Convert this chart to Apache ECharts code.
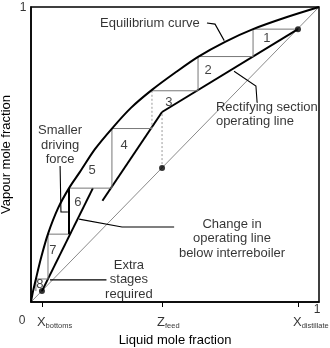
<!DOCTYPE html>
<html>
<head>
<meta charset="utf-8">
<script src="https://cdn.jsdelivr.net/npm/echarts@6.0.0/dist/echarts.min.js"></script>
<style>
html, body { margin: 0; padding: 0; background: #fff; }
#chart { width: 330px; height: 348px; }
</style>
</head>
<body>
<div id="chart"></div>
<script type="text/javascript">

// equilibrium curve
var eqX = [0, 0.007, 0.017, 0.035, 0.059, 0.094, 0.132, 0.170, 0.222, 0.281, 0.347, 0.420, 0.500, 0.580, 0.674, 0.771, 0.889, 1];
var eqY = [0, 0.036, 0.078, 0.150, 0.231, 0.318, 0.386, 0.441, 0.518, 0.588, 0.658, 0.719, 0.777, 0.831, 0.882, 0.925, 0.966, 1];

// key compositions
var xBottoms = 0.038, zFeed = 0.455, xDistillate = 0.927;
var pinchY = 0.644;           // rectifying / stripping intersection on the q-line

// operating lines
var rectLine = [[xDistillate, 0.925], [zFeed, pinchY]];
var stripLine = [[zFeed, pinchY], [0.248, 0.343]];
var interLine = [[0.215, 0.386], [xBottoms, 0.037]];

// staircase corners
var stairsTop = [[0.927, 0.925], [0.771, 0.925], [0.771, 0.832], [0.580, 0.832], [0.580, 0.716], [0.420, 0.716]];
var stairsDotted = [[0.420, 0.716], [0.420, 0.588]];
var stairsMid = [[0.420, 0.588], [0.281, 0.588], [0.281, 0.386], [0.132, 0.386]];
var stairsLow = [[0.132, 0.230], [0.059, 0.230], [0.059, 0.078], [0.017, 0.078], [0.017, 0.037]];
var drivingForce = [[0.132, 0.386], [0.132, 0.230]];

// stage numbers
var stageNames = ['1', '2', '3', '4', '5', '6', '7', '8'];
var stageX = [0.819, 0.615, 0.479, 0.323, 0.212, 0.163, 0.076, 0.031];
var stageY = [0.892, 0.786, 0.678, 0.532, 0.447, 0.339, 0.176, 0.061];

var tickValues = [xBottoms, zFeed, xDistillate];

var myChart = echarts.init(document.getElementById('chart'));

function seg(pts, color, width, type) {
    return {
        type: 'line',
        data: pts,
        symbol: 'none',
        silent: true,
        z: 3,
        lineStyle: {color: color, width: width, type: type || 'solid'}
    };
}

function leader(pts, arrows, width) {
    return {
        type: 'lines',
        coordinateSystem: 'cartesian2d',
        polyline: true,
        silent: true,
        z: 6,
        symbol: arrows,
        symbolSize: 7,
        lineStyle: {color: '#000', width: width || 1.1, opacity: 1, curveness: 0},
        data: [{coords: pts}]
    };
}

var font = "'Liberation Sans', Arial, sans-serif";

var eqData = [];
for (var i = 0; i < eqX.length; i++) eqData.push([eqX[i], eqY[i]]);

var stageData = [];
for (var i = 0; i < stageNames.length; i++) stageData.push({value: [stageX[i], stageY[i]], name: stageNames[i]});

function note(x, y, text, align) {
    return {
        value: [x, y],
        label: {formatter: text, align: align || 'center', fontSize: 13, lineHeight: 14.5}
    };
}

var sub = {
    m: {fontSize: 13, fontFamily: font, color: '#000', verticalAlign: 'bottom'},
    s: {fontSize: 7.5, fontFamily: font, color: '#000', verticalAlign: 'bottom', padding: [0, 0, -1, 0]}
};

var notes = [
    note(0.413, 0.946, 'Equilibrium curve'),
    note(0.642, 0.636, 'Rectifying section\noperating line', 'left'),
    note(0.101, 0.532, 'Smaller\ndriving\nforce'),
    note(0.698, 0.215, 'Change in\noperating line\nbelow interreboiler'),
    note(0.340, 0.076, 'Extra\nstages\nrequired'),
    {value: [0, 1], label: {formatter: '1', fontSize: 12, offset: [-8, 1]}},
    {value: [0, 0], label: {formatter: '0', fontSize: 12, offset: [-9, 19]}},
    {value: [1, 0], label: {formatter: '1', fontSize: 12, offset: [-2, 8]}},
    {value: [xBottoms, 0], label: {formatter: '{m|X}{s|bottoms}', align: 'left', offset: [-5, 20], rich: sub}},
    {value: [zFeed, 0], label: {formatter: '{m|Z}{s|feed}', align: 'left', offset: [-5, 20], rich: sub}},
    {value: [xDistillate, 0], label: {formatter: '{m|X}{s|distillate}', align: 'left', offset: [-5, 20], rich: sub}}
];

var option = {
    animation: false,
    grid: {
        left: 31, right: 11, top: 7, bottom: 46,
        outerBoundsMode: 'none', containLabel: false,
        show: true, borderColor: '#000', borderWidth: 1.5
    },
    xAxis: {
        type: 'value', min: 0, max: 1,
        name: 'Liquid mole fraction', nameLocation: 'middle', nameGap: 32,
        nameTextStyle: {fontSize: 13, fontFamily: font, color: '#000'},
        axisLine: {show: true, lineStyle: {color: '#000', width: 1.5}},
        axisTick: {show: true, customValues: tickValues, length: 5, lineStyle: {color: '#000', width: 1}},
        axisLabel: {show: false},
        splitLine: {show: false}
    },
    yAxis: {
        type: 'value', min: 0, max: 1,
        name: 'Vapour mole fraction', nameLocation: 'middle', nameGap: 18,
        nameTextStyle: {fontSize: 13, fontFamily: font, color: '#000'},
        axisLine: {show: true, lineStyle: {color: '#000', width: 1.5}},
        axisTick: {show: false},
        axisLabel: {show: false},
        splitLine: {show: false}
    },
    series: [
        seg([[0, 0], [1, 1]], '#8a8a8a', 1),
        {
            type: 'line', data: eqData, smooth: 0.3, symbol: 'none', silent: true, z: 4,
            lineStyle: {color: '#000', width: 2}
        },
        seg(rectLine, '#000', 2),
        seg(stripLine, '#000', 2),
        seg(interLine, '#000', 2),
        seg(stairsTop, '#777', 1),
        seg(stairsMid, '#777', 1),
        seg(stairsLow, '#777', 1),
        seg(stairsDotted, '#999', 1, [2, 2]),
        seg([[zFeed, 0.454], [zFeed, pinchY]], '#999', 1, [2, 2]),
        {
            type: 'scatter', symbolSize: 6, silent: true, z: 7,
            itemStyle: {color: '#000'},
            data: [[xDistillate, 0.925], [zFeed, 0.454], [xBottoms, 0.037]]
        },
        leader(drivingForce, ['arrow', 'arrow'], 2),
        leader([[0.611, 0.946], [0.639, 0.942], [0.671, 0.886]], ['none', 'arrow']),
        leader([[0.785, 0.678], [0.781, 0.732], [0.705, 0.782]], ['none', 'arrow']),
        leader([[0.101, 0.461], [0.104, 0.305], [0.128, 0.305]], ['none', 'none']),
        leader([[0.497, 0.254], [0.316, 0.254], [0.167, 0.281]], ['none', 'arrow']),
        leader([[0.262, 0.075], [0.066, 0.075]], ['none', 'arrow']),
        {
            type: 'scatter', symbolSize: 0, silent: true, z: 8, clip: false,
            data: stageData,
            label: {show: true, position: 'inside', formatter: '{b}', fontSize: 13, fontFamily: font, color: '#111'}
        },
        {
            type: 'scatter', symbolSize: 0, silent: true, z: 8, clip: false,
            data: notes,
            label: {show: true, position: 'inside', fontFamily: font, color: '#000', verticalAlign: 'middle'}
        }
    ]
};

myChart.setOption(option);

</script>
</body>
</html>
